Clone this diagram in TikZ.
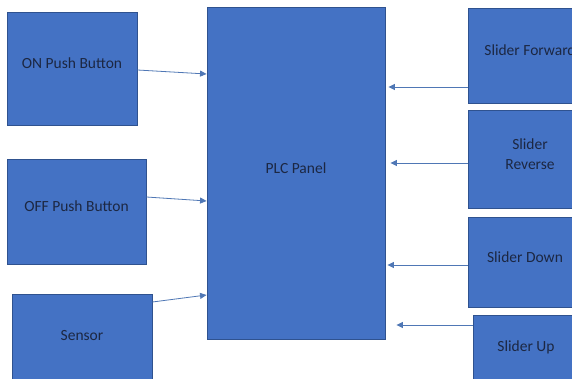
\documentclass[tikz,border=0pt]{standalone}
\usepackage{fontspec}
\setmainfont{Carlito}
\usetikzlibrary{arrows.meta}
\definecolor{boxblue}{HTML}{4472C4}
\definecolor{boxedge}{HTML}{2F528F}
\definecolor{linkblue}{HTML}{4F77B5}
\definecolor{textnavy}{HTML}{1C2742}
\begin{document}
\begin{tikzpicture}
      [
        x=1pt, y=-1pt,
        box/.style={draw=boxedge, line width=0.9pt, fill=boxblue, text=textnavy,
          font=\fontsize{15.5}{20}\selectfont, align=center, inner sep=0pt,
          text depth=10pt},
        link/.style={draw=linkblue, line width=0.8pt, -{Triangle[length=6.5pt,width=6pt]}}
      ]
      \path[use as bounding box, clip] (0,0) rectangle (572,379);
      \fill[white] (0,0) rectangle (572,379);
      % inputs
      \node [box, minimum width=130pt, minimum height=113pt] (on)     at (72,68.5)  {ON Push Button};
      \node [box, minimum width=139pt, minimum height=105pt] (off)    at (76.5,211.5) {OFF Push Button};
      \node [box, minimum width=140pt, minimum height=92pt]  (sensor) at (82,340)   {Sensor};
      % panel
      \node [box, minimum width=178pt, minimum height=332pt] (plc)    at (296,173)  {PLC Panel};
      % sliders
      \node [box, minimum width=124pt, minimum height=95pt]  (fwd)    at (530,55.5) {Slider Forward};
      \node [box, minimum width=124pt, minimum height=98pt]  (rev)    at (530,159)  {Slider\\Reverse};
      \node [box, minimum width=114pt, minimum height=90pt]  (down)   at (525,262)  {Slider Down};
      \node [box, minimum width=106pt, minimum height=72pt]  (up)     at (526,351)  {Slider Up};
      % links
      \draw [link] ([yshift=-1.5pt]on.east) -- ([yshift=99pt]plc.west);
      \draw [link] ([yshift=14.5pt]off.east) -- ([yshift=-28pt]plc.west);
      \draw [link] ([yshift=38pt]sensor.east) -- ([yshift=-122pt]plc.west);
      \draw [link] ([yshift=-31.5pt]fwd.west) -- ([xshift=3pt,yshift=86pt]plc.east);
      \draw [link] ([yshift=-4pt]rev.west) -- ([xshift=5pt,yshift=10pt]plc.east);
      \draw [link] ([yshift=-3pt]down.west) -- ([xshift=2pt,yshift=-92pt]plc.east);
      \draw [link] ([yshift=26pt]up.west) -- ([xshift=11pt,yshift=-152pt]plc.east);
\end{tikzpicture}
\end{document}
